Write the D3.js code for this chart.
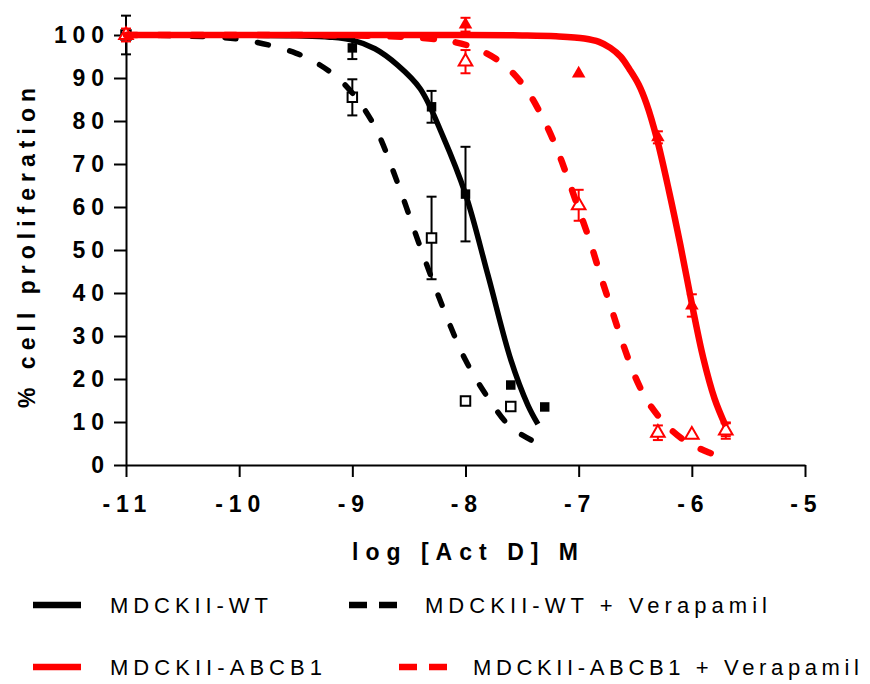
<!DOCTYPE html>
<meta charset="utf-8">
<script src="https://d3js.org/d3.v7.min.js"></script>
<style>
  body { margin: 0; background: #fff; }
  text { font-family: "Liberation Sans", Arial, sans-serif; }
</style>
<div id="chart"></div>
<script>
// tick values
const xTicks = [-11, -10, -9, -8, -7, -6, -5];
const yTicks = [0, 10, 20, 30, 40, 50, 60, 70, 80, 90, 100];

// measured points (log M, % proliferation, error)
const wtX = [-11, -9, -8.3, -8, -7.6, -7.3];
const wtY = [100, 97, 83.3, 63, 18.6, 13.5];
const wtErr = [4.5, 2.6, 3.7, 11, 0, 0];

const wtVerX = [-11, -9, -8.3, -8, -7.6];
const wtVerY = [100, 85.5, 52.8, 14.9, 13.6];
const wtVerErr = [0, 4.2, 9.6, 0, 0];

const abX = [-11, -8, -7, -6.3, -6, -5.7];
const abY = [100, 102.4, 91, 76.2, 37.1, 8.2];
const abErr = [1.5, 1.6, 0, 1.4, 2.6, 1.5];

const abVerX = [-11, -8, -7, -6.3, -6, -5.7];
const abVerY = [100, 93.8, 60.4, 7.5, 7, 8];
const abVerErr = [0, 2.7, 3.6, 1.7, 0, 1.9];

// fitted curves
const wtFitX = [-11, -10, -9.5, -9.2, -9, -8.8, -8.6, -8.4, -8.2, -8, -7.8, -7.6, -7.45, -7.36];
const wtFitY = [100, 100, 99.8, 99.5, 98.8, 96.8, 93, 87.5, 76.5, 63, 44, 24.5, 14, 9.5];

const wtVerFitX = [-11, -10.5, -10, -9.5, -9.2, -9, -8.8, -8.6, -8.4, -8.2, -8, -7.8, -7.6, -7.36];
const wtVerFitY = [100, 99.8, 99, 95.8, 91.5, 86.5, 78.6, 65.6, 50.7, 36.7, 24.4, 15.6, 8.8, 5];

const abFitX = [-11, -8, -7.5, -7.2, -6.95, -6.82, -6.72, -6.63, -6.55, -6.47, -6.4, -6.31, -6.2, -6.1, -6.0, -5.9, -5.8, -5.7];
const abFitY = [100, 100, 99.9, 99.7, 99.2, 98.4, 97, 95, 92, 88.5, 84, 76, 63.5, 51, 37.5, 25, 15.5, 9];

const abVerFitX = [-11, -9, -8.5, -8.2, -7.94, -7.68, -7.48, -7.33, -7.2, -7.1, -7.0, -6.9, -6.8, -6.7, -6.6, -6.5, -6.4, -6.3, -6.2, -6.08, -5.96, -5.85, -5.74];
const abVerFitY = [100, 99.9, 99.5, 98.8, 97.2, 93.5, 88, 81.4, 74, 67, 59.5, 52, 43.5, 35.5, 27.5, 20.5, 15.2, 11.5, 8.6, 6, 4.2, 2.9, 1.9];

const legendLabels = ["MDCKII-WT", "MDCKII-WT + Verapamil", "MDCKII-ABCB1", "MDCKII-ABCB1 + Verapamil"];

const width = 870, height = 684;
const svg = d3.select("#chart").append("svg")
  .attr("width", width).attr("height", height);

const x = d3.scaleLinear().domain([-11, -5]).range([126, 805]);
const y = d3.scaleLinear().domain([0, 100]).range([465, 35]);

// stretch a text with letter-spacing so that it covers a given width
function spread(sel, target) {
  sel.style("letter-spacing", "0px");
  const w = sel.node().getBBox().width;
  const n = sel.text().length;
  const s = (target - w) / (n - 1);
  sel.style("letter-spacing", s + "px");
  return s;
}

// axes
const xAxis = svg.append("g")
  .attr("transform", `translate(0,${y(0)})`)
  .call(d3.axisBottom(x).tickValues(xTicks).tickSize(12).tickSizeOuter(0).tickPadding(19)
    .tickFormat(d => d));
const yAxis = svg.append("g")
  .attr("transform", `translate(${x(-11)},0)`)
  .call(d3.axisLeft(y).tickValues(yTicks).tickSize(12).tickSizeOuter(0));

[xAxis, yAxis].forEach(a => {
  a.selectAll("path, line").attr("stroke", "#000").attr("stroke-width", 2);
  a.selectAll("text")
    .attr("fill", "#000")
    .attr("text-anchor", "start")
    .style("font-size", "23px")
    .style("font-weight", "bold");
});

// y tick labels: right edge at x=104
const ySp = spread(yAxis.selectAll("text").filter(d => d === 100), 50);
yAxis.selectAll("text").each(function() {
  const t = d3.select(this).style("letter-spacing", "0px");
  const w = this.getBBox().width + (t.text().length - 1) * ySp;
  t.style("letter-spacing", ySp + "px").attr("x", (104 - 126) - w);
});
// x tick labels: centred 2px left of the tick
const xSp = spread(xAxis.selectAll("text").filter(d => d === -11), 44);
xAxis.selectAll("text").each(function() {
  const t = d3.select(this).style("letter-spacing", "0px");
  const w = this.getBBox().width + (t.text().length - 1) * xSp;
  t.style("letter-spacing", xSp + "px").attr("x", -2 - w / 2);
});

// axis titles
const xTitle = svg.append("text")
  .attr("x", 352).attr("y", 560)
  .style("font-size", "23px").style("font-weight", "bold")
  .text("log [Act D] M");
spread(xTitle, 226);

const yTitle = svg.append("text")
  .attr("transform", "translate(35,408) rotate(-90)")
  .style("font-size", "23px").style("font-weight", "bold")
  .text("% cell proliferation");
spread(yTitle, 320);

const line = d3.line()
  .x(d => x(d[0]))
  .y(d => y(d[1]))
  .curve(d3.curveCatmullRom.alpha(0.5));

function drawPoints(xs, ys, errs, color, shape, filled) {
  const g = svg.append("g");
  const pts = xs.map((v, i) => ({ x: v, y: ys[i], e: errs[i] }));
  // error bars
  pts.filter(d => d.e > 0).forEach(d => {
    const cx = x(d.x), top = y(d.y + d.e), bot = y(d.y - d.e);
    g.append("line").attr("x1", cx).attr("x2", cx).attr("y1", top).attr("y2", bot)
      .attr("stroke", color).attr("stroke-width", 2);
    [top, bot].forEach(yy => g.append("line")
      .attr("x1", cx - 5).attr("x2", cx + 5).attr("y1", yy).attr("y2", yy)
      .attr("stroke", color).attr("stroke-width", 2));
  });
  const sym = d3.symbol().type(shape === "square" ? d3.symbolSquare : d3.symbolTriangle)
    .size(shape === "square" ? 90 : 80);
  g.selectAll("path.pt").data(pts).join("path")
    .attr("class", "pt")
    .attr("transform", d => `translate(${x(d.x)},${y(d.y)})`)
    .attr("d", sym)
    .attr("fill", filled ? color : "#fff")
    .attr("stroke", color)
    .attr("stroke-width", filled ? 0 : 2);
}

function drawCurve(xs, ys, color, dashed, w) {
  svg.append("path")
    .datum(xs.map((v, i) => [v, ys[i]]))
    .attr("fill", "none")
    .attr("stroke", color)
    .attr("stroke-width", w)
    .attr("stroke-linecap", dashed ? "round" : "butt")
    .attr("stroke-dasharray", dashed ? "11,22" : null)
    .attr("d", line);
}

drawPoints(wtX, wtY, wtErr, "#000", "square", true);
drawPoints(wtVerX, wtVerY, wtVerErr, "#000", "square", false);
drawCurve(wtFitX, wtFitY, "#000", false, 5.5);
drawCurve(wtVerFitX, wtVerFitY, "#000", true, 5.5);

drawPoints(abX, abY, abErr, "#ff0000", "triangle", true);
drawPoints(abVerX, abVerY, abVerErr, "#ff0000", "triangle", false);
drawCurve(abVerFitX, abVerFitY, "#ff0000", true, 6.5);
drawCurve(abFitX, abFitY, "#ff0000", false, 6.5);

// legend
const legend = [
  { label: legendLabels[0], color: "#000", dashed: false, lx: 33, ly: 605, tx: 110, tw: 158 },
  { label: legendLabels[1], color: "#000", dashed: true, lx: 349, ly: 605, tx: 425, tw: 342 },
  { label: legendLabels[2], color: "#ff0000", dashed: false, lx: 33, ly: 667, tx: 110, tw: 212 },
  { label: legendLabels[3], color: "#ff0000", dashed: true, lx: 399, ly: 667, tx: 473, tw: 386 }
];
legend.forEach(d => {
  svg.append("line")
    .attr("x1", d.lx).attr("x2", d.lx + (d.dashed ? 50 : 48))
    .attr("y1", d.ly).attr("y2", d.ly)
    .attr("stroke", d.color).attr("stroke-width", 6.5)
    .attr("stroke-dasharray", d.dashed ? "18,12" : null);
  const t = svg.append("text")
    .attr("x", d.tx).attr("y", d.ly + 8)
    .style("font-size", "22px")
    .attr("fill", "#000")
    .text(d.label);
  spread(t, d.tw);
});
</script>
